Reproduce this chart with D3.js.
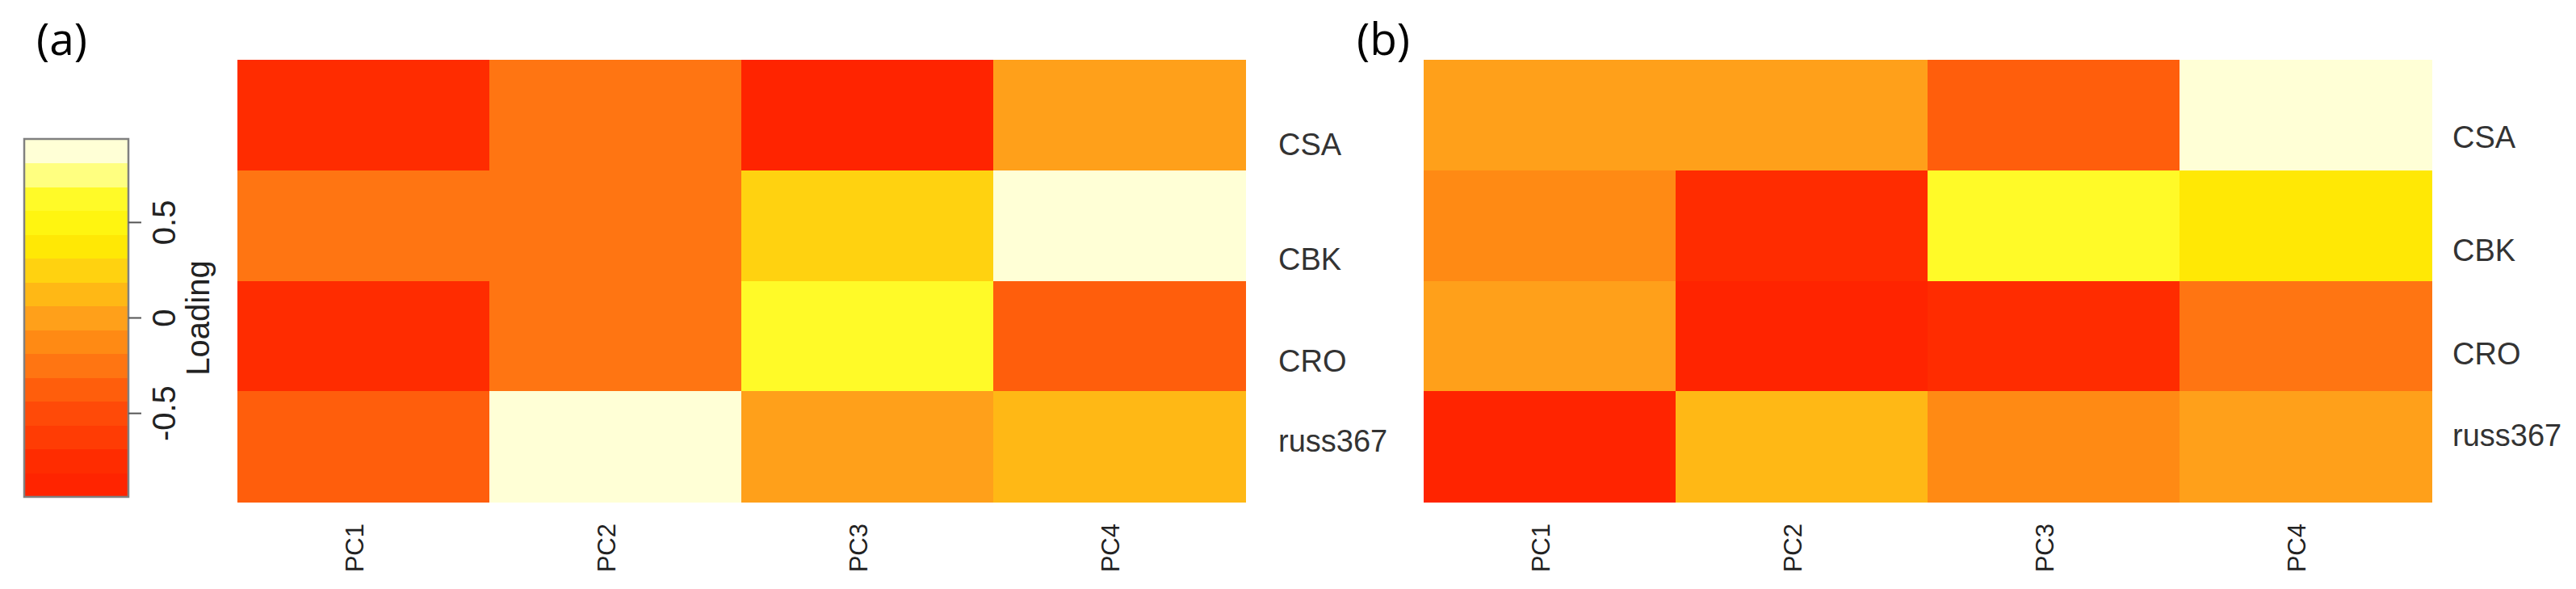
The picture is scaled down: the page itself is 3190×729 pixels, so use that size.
<!DOCTYPE html>
<html>
<head>
<meta charset="utf-8">
<script src="https://cdn.jsdelivr.net/npm/d3@7"></script>
<style>
  html, body { margin: 0; padding: 0; background: #fff; }
  svg { display: block; }
</style>
</head>
<body>
<svg id="chart" width="3190" height="729"></svg>
<script>
// ---------------- data ----------------
const rowNames = ["CSA", "CBK", "CRO", "russ367"];
const pcNames = ["PC1", "PC2", "PC3", "PC4"];
// loadings, panel (a): rows x PCs
const loadingsA = [
  [-0.78, -0.25, -0.88,  0.02],
  [-0.26, -0.24,  0.27,  0.90],
  [-0.79, -0.25,  0.60, -0.40],
  [-0.38,  0.92,  0.01,  0.13]
];
// loadings, panel (b)
const loadingsB = [
  [ 0.02, -0.01, -0.40,  0.90],
  [-0.12, -0.76,  0.60,  0.40],
  [ 0.00, -0.88, -0.77, -0.27],
  [-0.86,  0.14, -0.13,  0.03]
];
const legendTicks = [-0.5, 0, 0.5];
const legendTickLabels = ["-0.5", "0", "0.5"];
const legendTitle = "Loading";
const panelLabels = ["(a)", "(b)"];
// 15-step heat palette, low -> high
const heatPalette = ["#FF2400","#FF2C00","#FF3C04","#FF4A08","#FF5E0C","#FF7512","#FF8A14",
  "#FFA01A","#FFB815","#FFD210","#FFE805","#FFF510","#FFFA28","#FFFF80","#FFFFD6"];
const colorDomain = [-0.9375, 0.9375];

// ---------------- drawing ----------------
const svg = d3.select("#chart");
const color = d3.scaleQuantize().domain(colorDomain).range(heatPalette);
const labelFont = "'Liberation Sans', Arial, Helvetica, sans-serif";

function drawPanel(data, x0, x1, labelX, labelBaselines) {
  const g = svg.append("g");
  const x = d3.scaleBand().domain(pcNames).range([x0, x1]);
  const y = d3.scaleBand().domain(rowNames).range([74, 621]);
  const cells = [];
  rowNames.forEach((r, i) => pcNames.forEach((p, j) => cells.push({ r, p, v: data[i][j] })));
  g.selectAll("rect.cell").data(cells).join("rect")
    .attr("class", "cell")
    .attr("x", d => x(d.p)).attr("y", d => y(d.r))
    .attr("width", x.bandwidth() + 0.5).attr("height", y.bandwidth() + 0.5)
    .attr("fill", d => color(d.v))
    .attr("shape-rendering", "crispEdges");
  // row labels (placed as in the original composite)
  const ly = d3.scaleLinear().domain([0, 1, 2, 3]).range(labelBaselines);
  g.selectAll("text.row").data(rowNames).join("text")
    .attr("class", "row")
    .attr("x", labelX).attr("y", (d, i) => ly(i))
    .attr("font-family", labelFont).attr("font-size", 38)
    .attr("fill", "#333").text(d => d);
  // column labels, rotated
  g.selectAll("text.col").data(pcNames).join("text")
    .attr("class", "col")
    .attr("transform", d => `translate(${x(d) + x.bandwidth() / 2},648) rotate(-90)`)
    .attr("text-anchor", "end")
    .attr("font-family", labelFont).attr("font-size", 31)
    .attr("fill", "#222").text(d => d);
}

drawPanel(loadingsA, 294, 1542, 1583, [192, 334, 460, 559]);
drawPanel(loadingsB, 1763, 3011, 3037, [183, 323, 451, 552]);

// panel letters
svg.selectAll("text.panel").data(panelLabels).join("text")
  .attr("class", "panel")
  .attr("x", (d, i) => i === 0 ? 45 : 1680)
  .attr("y", 68)
  .attr("font-family", "'Open Sans', 'Noto Sans', sans-serif")
  .attr("font-size", 55)
  .attr("fill", "#000").text(d => d);

// colour key
const key = svg.append("g");
const ky = d3.scaleLinear().domain(colorDomain).range([615, 172]);
const steps = d3.range(heatPalette.length).map(i => {
  const w = (colorDomain[1] - colorDomain[0]) / heatPalette.length;
  return { lo: colorDomain[0] + i * w, hi: colorDomain[0] + (i + 1) * w, c: heatPalette[i] };
});
key.selectAll("rect.band").data(steps).join("rect")
  .attr("class", "band")
  .attr("x", 30).attr("width", 129)
  .attr("y", d => ky(d.hi)).attr("height", d => ky(d.lo) - ky(d.hi) + 0.5)
  .attr("fill", d => d.c).attr("shape-rendering", "crispEdges");
key.append("rect")
  .attr("x", 30).attr("y", 172).attr("width", 129).attr("height", 443)
  .attr("fill", "none").attr("stroke", "#808080").attr("stroke-width", 2.5);
key.selectAll("line.tick").data(legendTicks).join("line")
  .attr("class", "tick")
  .attr("x1", 159).attr("x2", 175)
  .attr("y1", d => ky(d)).attr("y2", d => ky(d))
  .attr("stroke", "#555").attr("stroke-width", 2);
key.selectAll("text.tick").data(legendTicks).join("text")
  .attr("class", "tick")
  .attr("transform", d => `translate(217,${ky(d)}) rotate(-90)`)
  .attr("text-anchor", "middle")
  .attr("font-family", labelFont).attr("font-size", 40)
  .attr("fill", "#222").text((d, i) => legendTickLabels[i]);
key.append("text")
  .attr("transform", `translate(259,${ky(0)}) rotate(-90)`)
  .attr("text-anchor", "middle")
  .attr("font-family", labelFont).attr("font-size", 40)
  .attr("fill", "#222").text(legendTitle);
</script>
</body>
</html>
